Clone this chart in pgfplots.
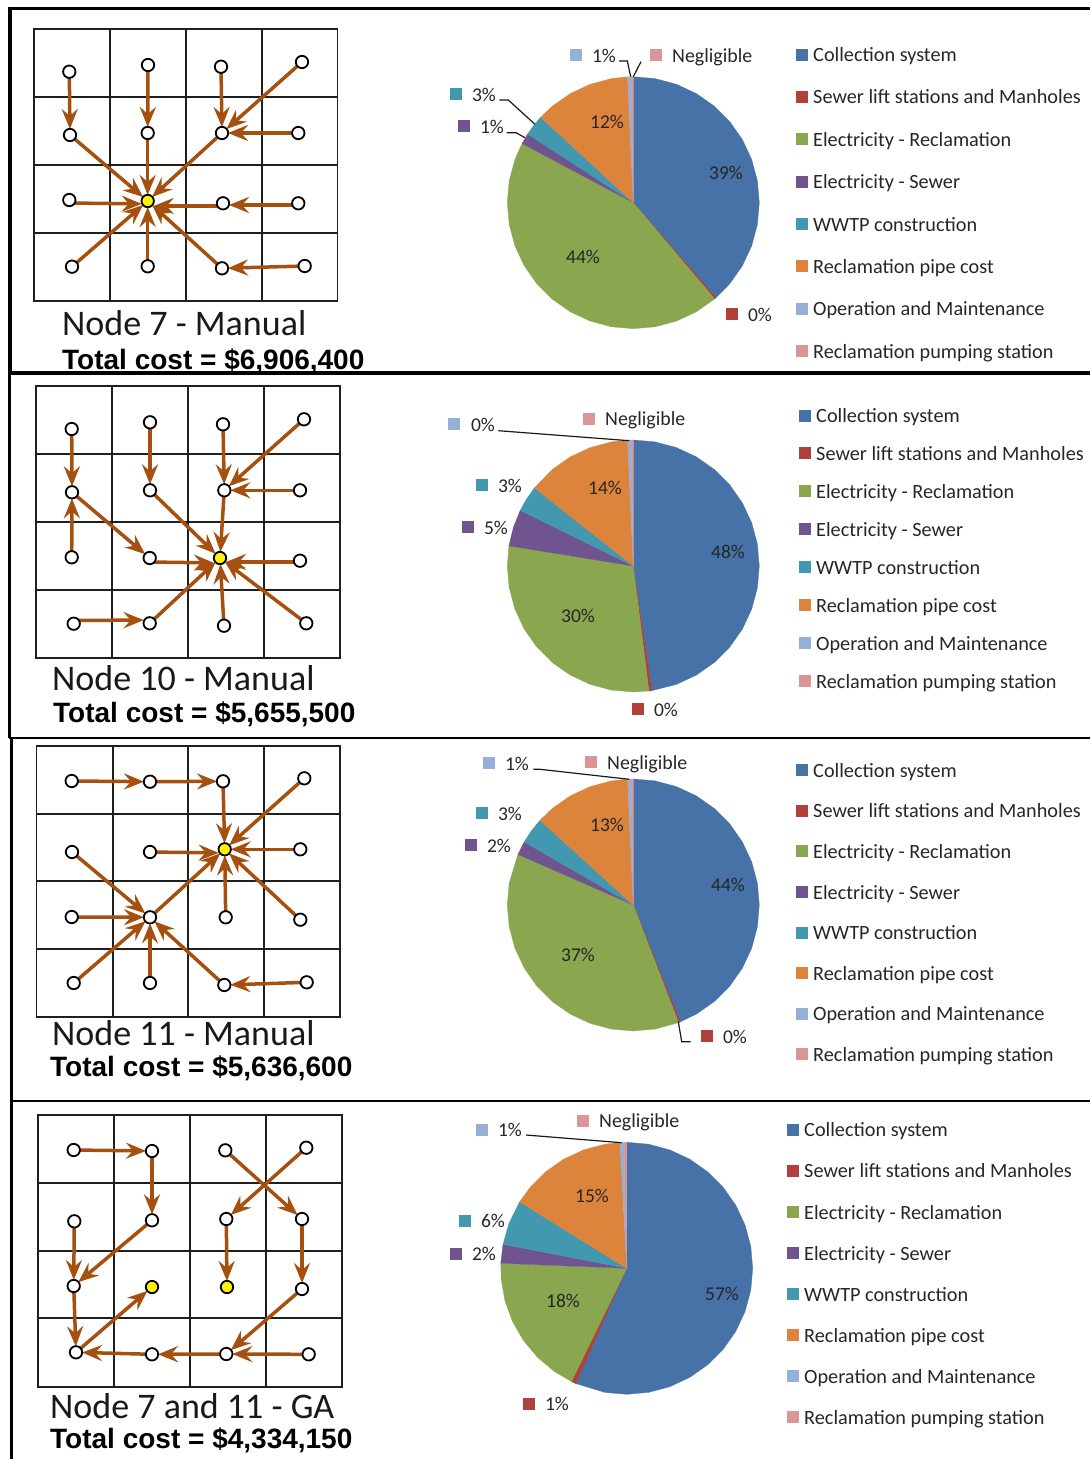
\documentclass[border=0pt]{standalone}
\usepackage{pgfplots}
\pgfplotsset{compat=1.18}
\usepgfplotslibrary{polar}
\usetikzlibrary{arrows.meta}
\usepackage{fontspec}
\setmainfont{Carlito}
\newfontfamily\arialf{Liberation Sans}
\definecolor{pblue}{HTML}{4672A8}
\definecolor{pred}{HTML}{B0403C}
\definecolor{pgreen}{HTML}{8AA64E}
\definecolor{ppurple}{HTML}{70548F}
\definecolor{pteal}{HTML}{4198AF}
\definecolor{porange}{HTML}{DD843C}
\definecolor{plb}{HTML}{96AFD7}
\definecolor{ppink}{HTML}{D99694}
\definecolor{pipec}{HTML}{A5500F}
\definecolor{txt}{HTML}{262626}
\pgfplotsset{
  pieaxis/.style={scale only axis, width=252pt, height=252pt, xmin=-270, xmax=90, ymin=0, ymax=1, hide axis, clip=false, anchor=center},
  w/.style={fill=#1, draw=#1, line width=0.3pt},
  pipe/.style={color=pipec, line width=3.5pt, -{Stealth[length=20pt,width=16pt,inset=7pt]}, shorten >=6pt},
  gridl/.style={color=black!88, line width=1.8pt, line join=miter},
  frame/.style={color=black, line width=#1}
}
\newcommand\A[4]{\addplot[pipe] coordinates {(#1,#2) (#3,#4)};}
\newcommand\Sq[3]{\addplot[only marks, mark=square*, mark size=5.5pt, mark options={line width=0pt, fill=#1, draw=#1}] coordinates {(#2,#3)};}
\newcommand\Lab[3]{\node[anchor=base, inner sep=0pt, yshift=-6.8pt, text=txt, font=\fontsize{19.5}{22}\selectfont] at (axis cs:#1,#2) {#3};}
\newcommand\LabW[3]{\node[anchor=base west, inner sep=0pt, yshift=-6.8pt, text=txt, font=\fontsize{19.9}{22}\selectfont] at (axis cs:#1,#2) {#3};}
\newcommand\LegT[3]{\node[anchor=base west, inner sep=0pt, xshift=11pt, yshift=-7.1pt, text=txt, font=\fontsize{20.25}{22}\selectfont] at (axis cs:#1,#2) {#3};}
\newcommand\Leg[9]{%
  \Sq{pblue}{#1}{#2}\Sq{pred}{#1}{#3}\Sq{pgreen}{#1}{#4}\Sq{ppurple}{#1}{#5}\Sq{pteal}{#1}{#6}\Sq{porange}{#1}{#7}\Sq{plb}{#1}{#8}\Sq{ppink}{#1}{#9}%
  \LegT{#1}{#2}{Collection system}\LegT{#1}{#3}{Sewer lift stations and Manholes}\LegT{#1}{#4}{Electricity - Reclamation}\LegT{#1}{#5}{Electricity - Sewer}\LegT{#1}{#6}{WWTP construction}\LegT{#1}{#7}{Reclamation pipe cost}\LegT{#1}{#8}{Operation and Maintenance}\LegT{#1}{#9}{Reclamation pumping station}}
\newcommand\Title[3]{\node[anchor=base west, inner sep=0pt, text=black!90, font=\fontsize{36}{40}\selectfont] at (axis cs:#1,#2) {#3};}
\newcommand\Cost[3]{\node[anchor=base west, inner sep=0pt, text=black, font=\arialf\bfseries\fontsize{28}{30}\selectfont] at (axis cs:#1,#2) {#3};}
\newcommand\Nodes[1]{\addplot[only marks, mark=*, mark size=6.2pt, mark options={fill=white, draw=black, line width=1.8pt}] coordinates {#1};}
\newcommand\Yel[1]{\addplot[only marks, mark=*, mark size=6.2pt, mark options={fill=yellow, draw=black, line width=1.8pt}] coordinates {#1};}
\newcommand\Lead[1]{\addplot[color=black!90, line width=1.2pt] coordinates {#1};}
\begin{document}
\begin{tikzpicture}
\path[use as bounding box] (0pt,0pt) rectangle (1090pt,1459pt);
% ---------- pie 1
\begin{polaraxis}[pieaxis, at={(633.3pt,1256.3pt)}]
\addplot[w=pblue] coordinates {(0,0) (90,1) (80,1) (70,1) (60,1) (50,1) (40,1) (30,1) (20,1) (10,1) (0,1) (-10,1) (-20,1) (-30,1) (-40,1) (-49,1)} --cycle;
\addplot[w=pred] coordinates {(0,0) (-49,1) (-49.8,1)} --cycle;
\addplot[w=pgreen] coordinates {(0,0) (-49.8,1) (-60,1) (-70,1) (-80,1) (-90,1) (-100,1) (-110,1) (-120,1) (-130,1) (-140,1) (-150,1) (-160,1) (-170,1) (-180,1) (-190,1) (-200,1) (-208,1)} --cycle;
\addplot[w=ppurple] coordinates {(0,0) (-208,1) (-213,1)} --cycle;
\addplot[w=pteal] coordinates {(0,0) (-213,1) (-218,1) (-222.7,1)} --cycle;
\addplot[w=porange] coordinates {(0,0) (-222.7,1) (-230,1) (-240,1) (-250,1) (-260,1) (-267.4,1)} --cycle;
\addplot[w=plb] coordinates {(0,0) (-267.4,1) (-269,1)} --cycle;
\addplot[w=ppink] coordinates {(0,0) (-269,1) (-270,1)} --cycle;
\end{polaraxis}
% ---------- pie 2
\begin{polaraxis}[pieaxis, at={(633.3pt,893pt)}]
\addplot[w=pblue] coordinates {(0,0) (90,1) (80,1) (70,1) (60,1) (50,1) (40,1) (30,1) (20,1) (10,1) (0,1) (-10,1) (-20,1) (-30,1) (-40,1) (-50,1) (-60,1) (-70,1) (-81.5,1)} --cycle;
\addplot[w=pred] coordinates {(0,0) (-81.5,1) (-82.9,1)} --cycle;
\addplot[w=pgreen] coordinates {(0,0) (-82.9,1) (-90,1) (-100,1) (-110,1) (-120,1) (-130,1) (-140,1) (-150,1) (-160,1) (-170,1) (-180,1) (-189.2,1)} --cycle;
\addplot[w=ppurple] coordinates {(0,0) (-189.2,1) (-198,1) (-206.2,1)} --cycle;
\addplot[w=pteal] coordinates {(0,0) (-206.2,1) (-212,1) (-218.3,1)} --cycle;
\addplot[w=porange] coordinates {(0,0) (-218.3,1) (-230,1) (-240,1) (-250,1) (-260,1) (-267.4,1)} --cycle;
\addplot[w=plb] coordinates {(0,0) (-267.4,1) (-269,1)} --cycle;
\addplot[w=ppink] coordinates {(0,0) (-269,1) (-270,1)} --cycle;
\end{polaraxis}
% ---------- pie 3
\begin{polaraxis}[pieaxis, at={(633.3pt,554pt)}]
\addplot[w=pblue] coordinates {(0,0) (90,1) (80,1) (70,1) (60,1) (50,1) (40,1) (30,1) (20,1) (10,1) (0,1) (-10,1) (-20,1) (-30,1) (-40,1) (-50,1) (-60,1) (-68.2,1)} --cycle;
\addplot[w=pred] coordinates {(0,0) (-68.2,1) (-69,1)} --cycle;
\addplot[w=pgreen] coordinates {(0,0) (-69,1) (-80,1) (-90,1) (-100,1) (-110,1) (-120,1) (-130,1) (-140,1) (-150,1) (-160,1) (-170,1) (-180,1) (-190,1) (-203.7,1)} --cycle;
\addplot[w=ppurple] coordinates {(0,0) (-203.7,1) (-210,1)} --cycle;
\addplot[w=pteal] coordinates {(0,0) (-210,1) (-216,1) (-222.2,1)} --cycle;
\addplot[w=porange] coordinates {(0,0) (-222.2,1) (-230,1) (-240,1) (-250,1) (-260,1) (-267.4,1)} --cycle;
\addplot[w=plb] coordinates {(0,0) (-267.4,1) (-269,1)} --cycle;
\addplot[w=ppink] coordinates {(0,0) (-269,1) (-270,1)} --cycle;
\end{polaraxis}
% ---------- pie 4
\begin{polaraxis}[pieaxis, at={(626.7pt,190.7pt)}]
\addplot[w=pblue] coordinates {(0,0) (90,1) (80,1) (70,1) (60,1) (50,1) (40,1) (30,1) (20,1) (10,1) (0,1) (-10,1) (-20,1) (-30,1) (-40,1) (-50,1) (-60,1) (-70,1) (-80,1) (-90,1) (-100,1) (-113.8,1)} --cycle;
\addplot[w=pred] coordinates {(0,0) (-113.8,1) (-116,1)} --cycle;
\addplot[w=pgreen] coordinates {(0,0) (-116,1) (-125,1) (-135,1) (-145,1) (-155,1) (-165,1) (-175,1) (-182.3,1)} --cycle;
\addplot[w=ppurple] coordinates {(0,0) (-182.3,1) (-191,1)} --cycle;
\addplot[w=pteal] coordinates {(0,0) (-191,1) (-201,1) (-211.8,1)} --cycle;
\addplot[w=porange] coordinates {(0,0) (-211.8,1) (-220,1) (-230,1) (-240,1) (-250,1) (-260,1) (-267,1)} --cycle;
\addplot[w=plb] coordinates {(0,0) (-267,1) (-268.7,1)} --cycle;
\addplot[w=ppink] coordinates {(0,0) (-268.7,1) (-270,1)} --cycle;
\end{polaraxis}
% ---------- everything else, in the picture's pixel coordinates
\begin{axis}[at={(0pt,0pt)}, anchor=south west, scale only axis, width=1090pt, height=1459pt,
  xmin=0, xmax=1090, ymin=0, ymax=1459, y dir=reverse, hide axis, clip=false]
% frame
\addplot[frame=3.4pt] coordinates {(1090,8.5) (10,8.5) (10,373)};
\addplot[frame=4pt] coordinates {(9,373) (1090,373)};
\addplot[frame=3pt] coordinates {(9.5,373) (9.5,738)};
\addplot[frame=2.6pt] coordinates {(9,738) (1090,738)};
\addplot[frame=3pt] coordinates {(11,738) (11,1101)};
\addplot[frame=2.6pt] coordinates {(9.5,1101) (1090,1101)};
\addplot[frame=3pt] coordinates {(11,1101) (11,1459)};
% grids
\addplot[gridl] coordinates {(34,29.3)(337.5,29.3)(337.5,301)(34,301)(34,29.3)(110,29.3)(110,301)(186,301)(186,29.3)(261.7,29.3)(261.7,301)(337.5,301)(337.5,232.7)(34,232.7)(34,165)(337.5,165)(337.5,97.3)(34,97.3)};
\addplot[gridl] coordinates {(36,386)(340,386)(340,657.7)(36,657.7)(36,386)(112.3,386)(112.3,657.7)(188.3,657.7)(188.3,386)(264,386)(264,657.7)(340,657.7)(340,590)(36,590)(36,522)(340,522)(340,454.3)(36,454.3)};
\addplot[gridl] coordinates {(36.5,746)(340,746)(340,1017.3)(36.5,1017.3)(36.5,746)(112.7,746)(112.7,1017.3)(188.3,1017.3)(188.3,746)(264.3,746)(264.3,1017.3)(340,1017.3)(340,949.3)(36.5,949.3)(36.5,881.3)(340,881.3)(340,813.7)(36.5,813.7)};
\addplot[gridl] coordinates {(38,1115)(341.7,1115)(341.7,1386.7)(38,1386.7)(38,1115)(114.3,1115)(114.3,1386.7)(190.3,1386.7)(190.3,1115)(266,1115)(266,1386.7)(341.7,1386.7)(341.7,1318.3)(38,1318.3)(38,1250.7)(341.7,1250.7)(341.7,1183)(38,1183)};
% network 1
\A{69.3}{71.7}{70}{135}
\A{148}{65}{147.7}{133}
\A{221}{66.7}{222}{133}
\A{302}{62}{222}{133}
\A{298.3}{133}{222}{133}
\A{70}{135}{147.7}{201}
\A{147.7}{133}{147.7}{201}
\A{222}{133}{147.7}{201}
\A{69.3}{203}{147.7}{204}
\A{223}{206}{147.7}{206}
\A{298.3}{205}{223}{205}
\A{72}{266.7}{147.7}{201}
\A{147.7}{266.3}{147.7}{201}
\A{222}{268.3}{147.7}{201}
\A{304.7}{266}{222}{268.3}
\Nodes{(69.3,71.7)(148,65)(221,66.7)(302,62)(70,135)(147.7,133)(222,133)(298.3,133)(69.3,200)(223,203.3)(298.3,203.3)(72,266.7)(147.7,266.3)(222,268.3)(304.7,266)}
\Yel{(147.7,201)}
% network 2
\A{71.7}{429}{72}{492.3}
\A{150}{422.3}{150}{490.3}
\A{223}{424.3}{224.3}{490.3}
\A{304}{419.3}{224.3}{490.3}
\A{300}{490.3}{224.3}{490.3}
\A{224.3}{490.3}{220}{558}
\A{150}{490.3}{220}{558}
\A{72}{492.3}{149.7}{558}
\A{71.7}{557.3}{72}{492.3}
\A{149.7}{562}{220}{563}
\A{300}{562}{220}{562}
\A{73.7}{620.5}{149.7}{620}
\A{149.7}{623.3}{220}{558}
\A{224}{625.7}{220}{558}
\A{306.3}{623.3}{220}{558}
\Nodes{(71.7,429)(150,422.3)(223,424.3)(304,419.3)(72,492.3)(150,490.3)(224.3,490.3)(300,490.3)(71.7,557.3)(149.7,558)(300,560.7)(73.7,623.7)(149.7,623.3)(224,625.7)(306.3,623.3)}
\Yel{(220,558)}
% network 3
\A{71.7}{781}{150}{781.7}
\A{150}{781.7}{223}{781.3}
\A{223}{781.3}{224.7}{849.3}
\A{304.3}{778.3}{224.7}{849.3}
\A{300.3}{849.3}{224.7}{849.3}
\A{150}{852}{224.7}{853}
\A{72}{852}{150}{917.3}
\A{71.7}{917}{150}{917.3}
\A{150}{917.3}{224.7}{849.3}
\A{225.7}{917.3}{224.7}{849.3}
\A{300.3}{919.7}{224.7}{849.3}
\A{73.7}{983}{150}{917.3}
\A{150}{983}{150}{917.3}
\A{224.3}{985}{150}{917.3}
\A{306.7}{982.3}{224.3}{985}
\Nodes{(71.7,781)(150,781.7)(223,781.3)(304.3,778.3)(72,852)(150,852)(300.3,849.3)(71.7,917)(150,917.3)(225.7,917.3)(300.3,919.7)(73.7,983)(150,983)(224.3,985)(306.7,982.3)}
\Yel{(224.7,849.3)}
% network 4
\A{73.7}{1150}{152}{1151}
\A{152}{1151}{152}{1220.3}
\A{152}{1220.3}{73.7}{1286}
\A{74.3}{1221.3}{73.7}{1286}
\A{73.7}{1286}{76}{1352.3}
\A{76}{1352.3}{152}{1287}
\A{152}{1354.3}{76}{1352.3}
\A{226.3}{1354}{152}{1354.3}
\A{308.7}{1354.3}{226.3}{1354}
\A{302}{1289}{226.3}{1354}
\A{302}{1219}{302}{1289}
\A{225.3}{1150.3}{302}{1219}
\A{306.3}{1147.7}{226.3}{1219}
\A{226.3}{1219}{227}{1287}
\Nodes{(73.7,1150)(152,1151)(225.3,1150.3)(306.3,1147.7)(74.3,1221.3)(152,1220.3)(226.3,1219)(302,1219)(73.7,1286)(302,1289)(76,1352.3)(152,1354.3)(226.3,1354)(308.7,1354.3)}
\Yel{(152,1287)(227,1287)}
% titles
\Title{62}{335}{Node 7 - Manual}
\Cost{62}{369}{Total cost = \$6,906,400}
\Title{52}{690}{Node 10 - Manual}
\Cost{53}{722.7}{Total cost = \$5,655,500}
\Title{52}{1045}{Node 11 - Manual}
\Cost{50}{1076}{Total cost = \$5,636,600}
\Title{50}{1418.3}{Node 7 and 11 - GA}
\Cost{50}{1448.5}{Total cost = \$4,334,150}
% leader lines
\Lead{(619,61)(627.3,61)(630.7,76.7)}
\Lead{(641,61.7)(633.3,76.7)}
\Lead{(499.3,100)(508.3,100)(535,124.3)}
\Lead{(506.7,132.7)(516,132.7)(525,137.7)}
\Lead{(498.3,430.7)(629.3,440.7)}
\Lead{(533.3,769.3)(540,769.3)(629.3,779.3)}
\Lead{(678.3,1021.7)(681.7,1041.7)(690.7,1041.7)}
\Lead{(526,1135)(621.7,1142.7)}
% pie labels 1
\Lab{726}{173}{39\%}\Lab{583}{257}{44\%}\Lab{607}{122}{12\%}
\Sq{plb}{576}{55}\Lab{604}{56}{1\%}\Sq{ppink}{656}{55}\LabW{672}{56}{Negligible}
\Sq{pteal}{456}{94}\Lab{484}{95}{3\%}\Sq{ppurple}{464}{126}\Lab{492}{127}{1\%}\Sq{pred}{732}{314}\Lab{760}{315}{0\%}
% pie labels 2
\Lab{728}{552}{48\%}\Lab{578}{616}{30\%}\Lab{605}{488}{14\%}
\Sq{plb}{454}{424}\Lab{483}{425}{0\%}\Sq{ppink}{589}{418.5}\LabW{605}{419}{Negligible}
\Sq{pteal}{482}{485}\Lab{510}{485.5}{3\%}\Sq{ppurple}{468}{527}\Lab{496}{528}{5\%}\Sq{pred}{638}{709}\Lab{666}{710}{0\%}
% pie labels 3
\Lab{728}{885}{44\%}\Lab{578}{955}{37\%}\Lab{607}{825}{13\%}
\Sq{plb}{489}{763}\Lab{517}{764}{1\%}\Sq{ppink}{591}{762}\LabW{607}{763}{Negligible}
\Sq{pteal}{482}{813}\Lab{510}{814}{3\%}\Sq{ppurple}{471}{845}\Lab{499}{846}{2\%}\Sq{pred}{707}{1036}\Lab{735}{1037}{0\%}
% pie labels 4
\Lab{722}{1294}{57\%}\Lab{563}{1301}{18\%}\Lab{592}{1196}{15\%}
\Sq{plb}{482}{1129.5}\Lab{510}{1130}{1\%}\Sq{ppink}{583}{1120.5}\LabW{599}{1121}{Negligible}
\Sq{pteal}{465}{1220.5}\Lab{493}{1221}{6\%}\Sq{ppurple}{456}{1253.5}\Lab{484}{1254}{2\%}\Sq{pred}{529}{1403.5}\Lab{557}{1404}{1\%}
% legends
\Leg{802}{54.5}{96.5}{139}{181.5}{224}{266}{308.5}{351}
\Leg{805}{415.5}{453}{491}{529}{567}{605}{643}{681}
\Leg{802}{770}{810.5}{851}{892}{932.5}{973}{1013.5}{1054}
\Leg{793}{1129.5}{1170.5}{1212}{1253}{1294}{1335}{1376}{1417}
\end{axis}
\end{tikzpicture}
\end{document}
